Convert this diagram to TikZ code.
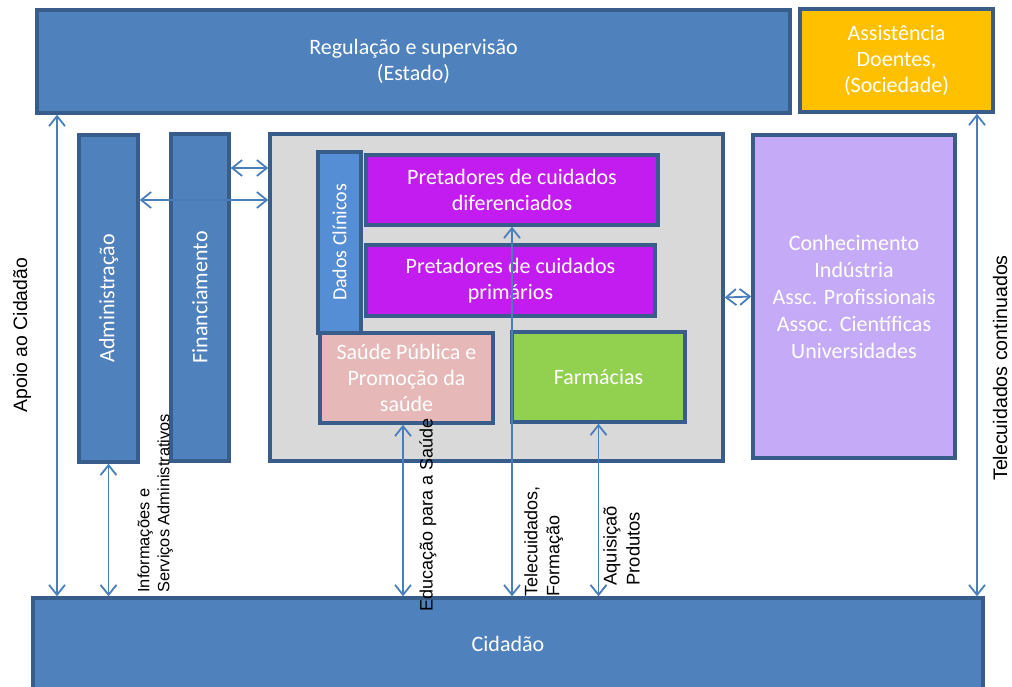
\documentclass[tikz,border=0pt]{standalone}
\usepackage{fontspec}
\setmainfont{Carlito}
\newfontfamily\lblfont{Liberation Sans}
\usepackage{tikz}
\usetikzlibrary{positioning, calc, arrows.meta}
\tikzset{>={Straight Barb[length=5pt,width=8pt]}}
\definecolor{boxblue}{RGB}{79,129,189}
\definecolor{edgeblue}{RGB}{56,93,138}
\definecolor{linkblue}{RGB}{74,126,187}
\definecolor{dadosblue}{RGB}{85,142,213}
\definecolor{asstyellow}{RGB}{255,192,0}
\definecolor{panelgrey}{RGB}{217,217,217}
\definecolor{carepurple}{RGB}{194,28,240}
\definecolor{saudepink}{RGB}{230,185,184}
\definecolor{farmgreen}{RGB}{146,208,80}
\definecolor{conhlilac}{RGB}{197,170,248}

\begin{document}
\begin{tikzpicture}[x=0.5pt,y=-0.5pt,
    box/.style={draw=edgeblue, line width=1.7pt, text=white, align=center, inner sep=2pt, font=\fontsize{11}{13}\selectfont},
    bluebox/.style={box, fill=boxblue},
    vtext/.style={rotate=90, text=white, font=\fontsize{11}{13}\selectfont},
    link/.style={<->, draw=linkblue, line width=0.9pt},
    lbl/.style={rotate=90, inner sep=0pt, align=left, font=\lblfont\fontsize{9}{11}\selectfont}]
\useasboundingbox (0,0) rectangle (1012,686);

% top row
\node[bluebox, minimum width=376.5pt, minimum height=51.5pt] (reg) at (413.5,61.5) {Regulação e supervisão\\(Estado)};
\node[box, fill=asstyellow, minimum width=96.5pt, minimum height=51.5pt] (asst) at (896.5,60.5) {Assistência\\Doentes,\\(Sociedade)};
\node[bluebox, minimum width=475pt, minimum height=80pt, label={[text=white, font=\fontsize{11}{13}\selectfont, yshift=17pt]center:Cidadão}] (cid) at (508,678) {};

% columns
\node[bluebox, minimum width=29.5pt, minimum height=163.5pt, label={[vtext]center:Administração}] (adm) at (108.5,298.5) {};
\node[bluebox, minimum width=29pt, minimum height=163.5pt, label={[vtext]center:Financiamento}] (fin) at (200,297.5) {};

% care panel
\node[box, fill=panelgrey, minimum width=226.5pt, minimum height=163.5pt] (care) at (496.5,297.5) {};
\node[box, fill=dadosblue, minimum width=21.5pt, minimum height=90.5pt, label={[vtext, font=\fontsize{10}{12}\selectfont]center:Dados Clínicos}] (dados) at (339.5,242.5) {};
\node[box, fill=carepurple, minimum width=146pt, minimum height=35pt] (dif) at (512,190) {Pretadores de cuidados\\diferenciados};
\node[box, fill=carepurple, minimum width=144.5pt, minimum height=35.5pt] (prim) at (510.5,280.5) {Pretadores de cuidados\\primários};
\node[box, fill=saudepink, minimum width=86.5pt, minimum height=45pt] (saude) at (406.5,378) {Saúde Pública e\\Promoção da\\saúde};
\node[box, fill=farmgreen, minimum width=86.5pt, minimum height=45pt] (farm) at (598.5,377) {Farmácias};

\node[box, fill=conhlilac, minimum width=101pt, minimum height=161.5pt, font=\fontsize{11}{13.5}\selectfont] (conh) at (854,296.5) {Conhecimento\\Indústria\\Assc. Profissionais\\Assoc. Científicas\\Universidades};

% links
\draw[link] (reg.south -| 57,0) -- (cid.north -| 57,0);
\draw[link] (asst.south -| 977,0) -- (cid.north -| 977,0);
\draw[link] (adm.south) -- (adm.south |- cid.north);
\draw[link] (adm.east |- 0,200) -- (care.west |- 0,200);
\draw[link] (fin.east |- 0,168) -- (care.west |- 0,168);
\draw[link] (care.east) -- (conh.west);
\draw[link] (saude.south -| 403,0) -- (cid.north -| 403,0);
\draw[link] (dif.south) -- (dif.south |- cid.north);
\draw[link] (farm.south) -- (farm.south |- cid.north);

% labels
\node[lbl, font=\lblfont\fontsize{9.7}{11}\selectfont] (apoio) at (22,335) {Apoio ao Cidadão};
\node[lbl, font=\lblfont\fontsize{9.8}{11}\selectfont] (telec) at (1000,368) {Telecuidados continuados};
\node[lbl, anchor=north west, font=\lblfont\fontsize{8.2}{10}\selectfont] (infos) at (137,593) {Informações e\\Serviços Administrativos};
\node[lbl, anchor=west] (educ) at (428,612) {Educação para a Saúde};
\node[lbl, anchor=north west] (tform) at (524,597) {Telecuidados,\\Formação};
\node[lbl, anchor=north west, font=\lblfont\fontsize{9.2}{11.5}\selectfont] (aquis) at (603,586) {Aquisiçaõ\\Produtos};
\end{tikzpicture}
\end{document}
